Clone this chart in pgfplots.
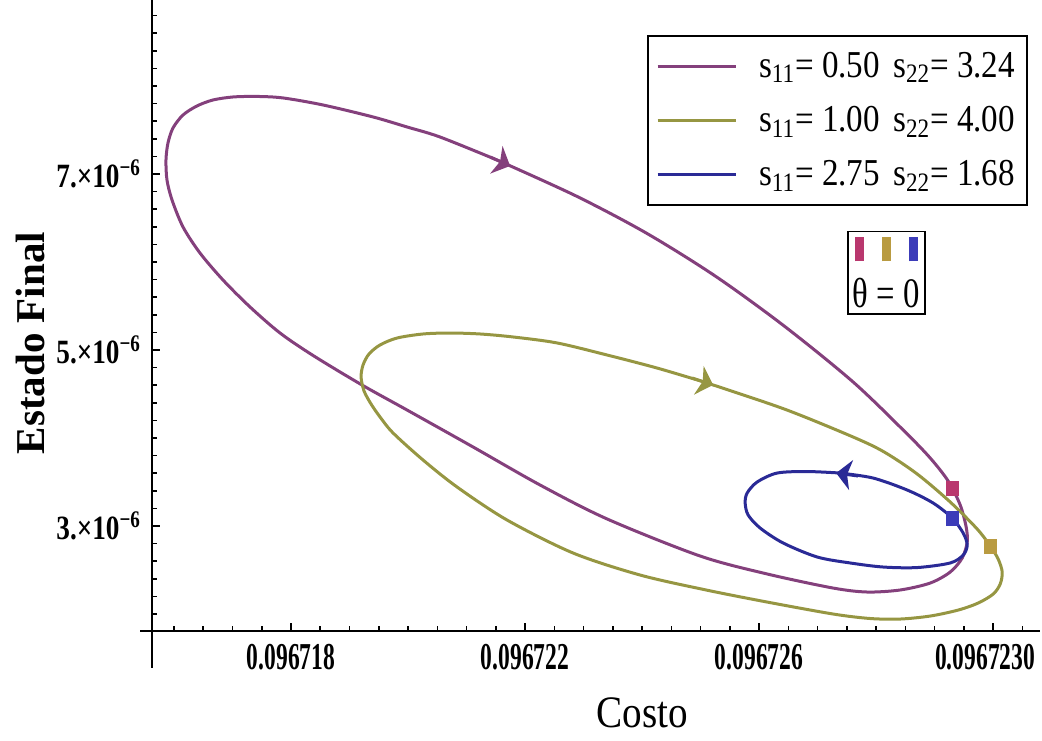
\documentclass[border=0pt]{standalone}
\usepackage{fontspec}
\setmainfont{Liberation Serif}
\newfontfamily\xtickfont{Liberation Serif}[FakeStretch=0.62]
\newfontfamily\ytickfont{Liberation Serif}[FakeStretch=0.8]
\newfontfamily\keyfont{Liberation Serif}[FakeStretch=0.78]
\newfontfamily\legfont{Liberation Serif}[FakeStretch=0.87]
\usepackage{pgfplots}
\pgfplotsset{compat=1.18}
\usetikzlibrary{arrows.meta}

\definecolor{curveA}{RGB}{132,64,124}
\definecolor{curveB}{RGB}{150,150,66}
\definecolor{curveC}{RGB}{42,42,150}
\definecolor{sqA}{RGB}{185,55,110}
\definecolor{sqB}{RGB}{185,155,65}
\definecolor{sqC}{RGB}{60,60,185}

\begin{document}
\begin{tikzpicture}
\begin{axis}[
  scale only axis, width=444pt, height=315.5pt,
  xmin=15.624, xmax=30.80, ymin=1.807, ymax=8.977,
  axis lines=left, axis line style={-, line width=1.2pt},
  clip=false,
  xtick={18,22,26,30},
  xticklabels={0.096718,0.096722,0.096726,{\hspace*{-8pt}0.0967230}},
  minor xtick={16,16.5,...,30.5},
  ytick={3,5,7},
  yticklabels={3.×10\textsuperscript{−6},5.×10\textsuperscript{−6},7.×10\textsuperscript{−6}},
  minor ytick={1.8,2.0,...,8.8},
  tick align=inside,
  major tick length=4pt, minor tick length=2.5pt,
  tick style={black, line width=0.8pt},
  xticklabel style={font=\xtickfont\bfseries\fontsize{19}{21}\selectfont, yshift=-3pt},
  yticklabel style={font=\ytickfont\bfseries\fontsize{17}{19}\selectfont, xshift=-2pt},
  xlabel={Costo},
  xlabel style={at={(axis description cs:0.5518,-0.130)}, anchor=center,
    font=\legfont\fontsize{22.5}{24}\selectfont},
  ylabel={Estado Final},
  ylabel style={at={(axis description cs:-0.1374,0.4564)}, anchor=center,
    font=\bfseries\fontsize{20.5}{22}\selectfont},
  legend style={at={(axis description cs:0.9865,0.9445)}, anchor=north east,
    draw=black, line width=1pt, font=\legfont\fontsize{19}{21}\selectfont,
    inner xsep=4pt, inner ysep=6pt, row sep=9pt},
  legend cell align=left,
  legend image code/.code={\draw[#1] (0pt,0pt) -- (39pt,0pt); \path (48pt,0pt);},
]

% s11 = 0.50, s22 = 3.24
\addplot[curveA, line width=1.5pt, smooth] coordinates {
(21.521,7.159) (22.872,6.750) (24.068,6.330) (25.248,5.841) (26.427,5.273)
(27.607,4.636) (28.496,4.068) (28.923,3.773) (29.231,3.511) (29.436,3.239)
(29.538,2.989) (29.556,2.818) (29.470,2.636) (29.265,2.477) (28.923,2.352)
(28.410,2.273) (27.846,2.250) (27.265,2.295) (26.137,2.455) (24.991,2.659)
(23.402,3.080) (22.256,3.466) (21.111,3.898) (19.983,4.318) (19.214,4.602)
(18.376,4.938) (17.812,5.193) (17.299,5.489) (16.838,5.795) (16.444,6.102)
(16.154,6.398) (15.966,6.705) (15.880,6.932) (15.863,7.159) (15.897,7.352)
(15.983,7.523) (16.154,7.670) (16.393,7.773) (16.667,7.841) (17.009,7.875)
(17.419,7.881) (17.863,7.864) (18.547,7.784) (19.402,7.648) (19.983,7.534)
(20.547,7.420) (21.521,7.159)
};
\addlegendentry{s\textsubscript{11}= 0.50\hspace{0.35em}s\textsubscript{22}= 3.24}

% s11 = 1.00, s22 = 4.00
\addplot[curveB, line width=1.5pt, smooth] coordinates {
(25.060,4.636) (26.427,4.330) (27.607,4.011) (28.137,3.841) (28.701,3.591)
(29.265,3.273) (29.726,2.966) (29.949,2.773) (30.085,2.625) (30.154,2.477)
(30.120,2.341) (30.000,2.227) (29.744,2.125) (29.402,2.045) (28.923,1.977)
(28.410,1.943) (27.897,1.949) (27.265,2.000) (26.137,2.136) (25.094,2.273)
(23.966,2.443) (22.821,2.693) (21.692,3.068) (20.838,3.443) (20.256,3.750)
(19.744,4.057) (19.521,4.239) (19.368,4.386) (19.248,4.534) (19.197,4.693)
(19.231,4.830) (19.333,4.955) (19.521,5.057) (19.812,5.136) (20.256,5.182)
(20.718,5.193) (21.231,5.182) (21.795,5.148) (22.547,5.080) (23.402,4.943)
(24.256,4.795) (25.060,4.636)
};
\addlegendentry{s\textsubscript{11}= 1.00\hspace{0.35em}s\textsubscript{22}= 4.00}

% s11 = 2.75, s22 = 1.68
\addplot[curveC, line width=1.5pt, smooth] coordinates {
(27.385,3.602) (26.821,3.619) (26.308,3.602) (25.966,3.500) (25.795,3.375)
(25.761,3.261) (25.812,3.125) (26.017,2.977) (26.410,2.807) (26.991,2.648)
(27.556,2.580) (28.120,2.534) (28.701,2.528) (29.265,2.580) (29.487,2.670)
(29.556,2.784) (29.487,2.920) (29.299,3.091) (28.974,3.261) (28.530,3.409)
(27.949,3.545) (27.385,3.602)
};
\addlegendentry{s\textsubscript{11}= 2.75\hspace{0.35em}s\textsubscript{22}= 1.68}

% direction of travel along each orbit
\addplot[curveA, line width=1.5pt, -{Stealth[length=7.5pt,width=15pt,inset=2pt]}, forget plot]
  coordinates {(21.402,7.193) (21.744,7.091)};
\addplot[curveB, line width=1.5pt, -{Stealth[length=7.5pt,width=15pt,inset=2pt]}, forget plot]
  coordinates {(24.855,4.682) (25.214,4.602)};
\addplot[curveC, line width=1.5pt, -{Stealth[length=7.5pt,width=15pt,inset=2pt]}, forget plot]
  coordinates {(27.692,3.568) (27.316,3.602)};

% starting points (theta = 0)
\addplot[only marks, mark=square*, mark size=3.5pt, mark options={xscale=0.85, fill=sqA, draw=sqA}, forget plot]
  coordinates {(29.299,3.430)};
\addplot[only marks, mark=square*, mark size=3.5pt, mark options={xscale=0.85, fill=sqB, draw=sqB}, forget plot]
  coordinates {(29.949,2.773)};
\addplot[only marks, mark=square*, mark size=3.5pt, mark options={xscale=0.85, fill=sqC, draw=sqC}, forget plot]
  coordinates {(29.299,3.091)};

% key for the starting-point markers
\node[draw, line width=0.8pt, inner xsep=2.5pt, inner ysep=3pt, align=center,
      font=\keyfont\fontsize{21}{22}\selectfont]
  at (axis description cs:0.827,0.568)
  {{\color{sqA}\rule{4.5pt}{12pt}}\hspace{9pt}{\color{sqB}\rule{4.5pt}{12pt}}\hspace{9pt}{\color{sqC}\rule{4.5pt}{12pt}}\\[1pt]θ = 0};

% axis lines run slightly past the crossing point
\draw[line width=1.2pt] (axis cs:15.42,1.807) -- (axis cs:15.624,1.807);
\draw[line width=1.2pt] (axis cs:15.624,1.807) -- (axis cs:15.624,1.387);
\end{axis}
\pgfresetboundingbox
\path (-76pt,-54.5pt) rectangle (445pt,315.5pt);
\end{tikzpicture}
\end{document}
